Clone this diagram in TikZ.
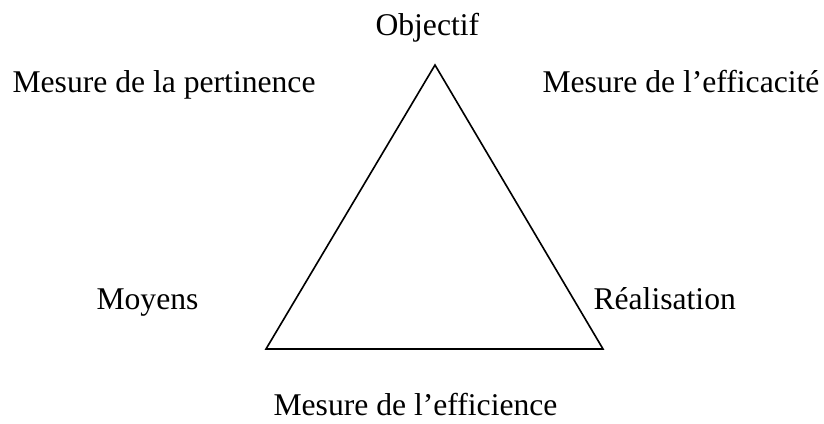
\documentclass[tikz,border=0pt]{standalone}
\usepackage{fontspec}
\setmainfont{Liberation Serif}
\usetikzlibrary{positioning,calc}
\tikzset{
  lbl/.style={inner sep=0pt,anchor=base west,font=\fontsize{11.7}{14}\selectfont},
  edge/.style={draw=black,line width=0.6pt,line join=miter}
}
\begin{document}
\begin{tikzpicture}[x=0.013cm,y=-0.013cm]
  \useasboundingbox (0,0) rectangle (824,423);
  % triangle corners
  \coordinate (top) at (435,65);
  \coordinate (bl) at (266,349);
  \coordinate (br) at (603,349);
  \draw[edge] (top) -- (br) -- (bl) -- cycle;
  % labels
  \node[lbl] (obj) at (375,35) {Objectif};
  \node[lbl] (pert) at (12,92) {Mesure de la pertinence};
  \node[lbl] (effic) at (542,92) {Mesure de l’efficacité};
  \node[lbl] (moy) at (96,309) {Moyens};
  \node[lbl] (real) at (593,309) {Réalisation};
  \node[lbl] (effi) at (273,415) {Mesure de l’efficience};
\end{tikzpicture}
\end{document}
